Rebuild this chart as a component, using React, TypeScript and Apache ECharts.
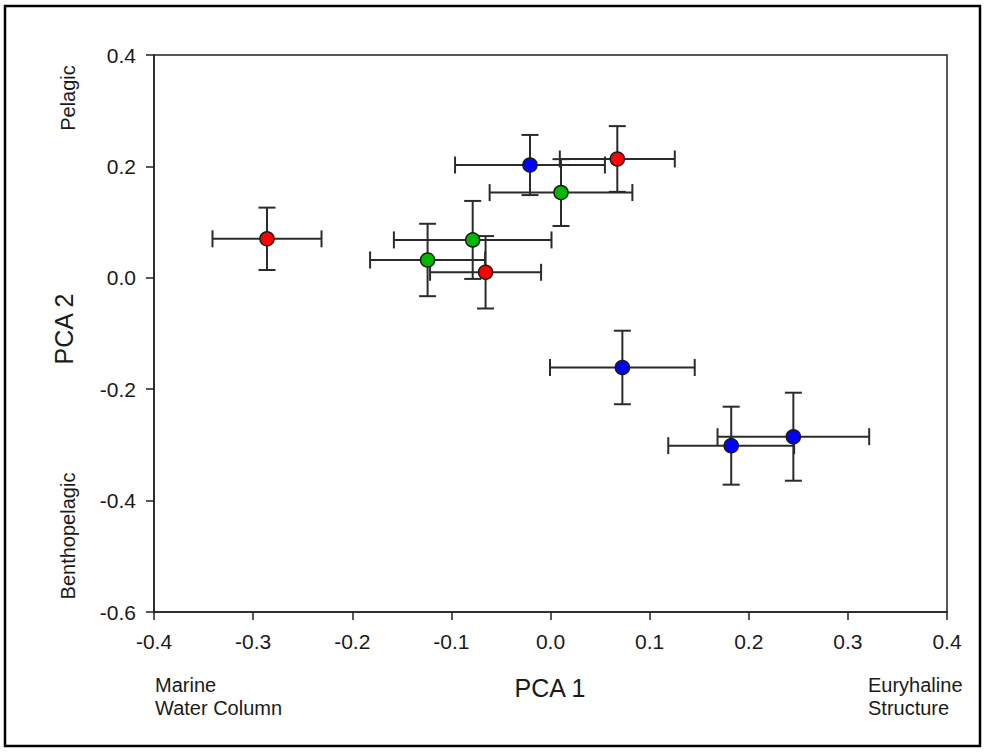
import React, { useEffect, useRef } from "react";
import * as echarts from "echarts";

// Group colours
const groupNames = ["Red", "Green", "Blue"];
const groupColors = ["#ff0000", "#00b800", "#0000ff"];

// Red group
const redX = [-0.286, -0.0655, 0.0674];
const redY = [0.07, 0.0099, 0.2133];
const redXErr = [0.055, 0.056, 0.058];
const redYErr = [0.056, 0.065, 0.059];

// Green group
const greenX = [-0.124, -0.0785, 0.0106];
const greenY = [0.032, 0.068, 0.153];
const greenXErr = [0.058, 0.0795, 0.072];
const greenYErr = [0.065, 0.07, 0.06];

// Blue group
const blueX = [-0.0207, 0.0725, 0.1823, 0.245];
const blueY = [0.2025, -0.161, -0.3014, -0.2853];
const blueXErr = [0.0756, 0.073, 0.0635, 0.0765];
const blueYErr = [0.054, 0.066, 0.07, 0.079];

// Axes
const xTicks = [-0.4, -0.3, -0.2, -0.1, 0.0, 0.1, 0.2, 0.3, 0.4];
const yTicks = [-0.6, -0.4, -0.2, 0.0, 0.2, 0.4];
const xAxisTitle = "PCA 1";
const yAxisTitle = "PCA 2";
const xLeftNote = ["Marine", "Water Column"];
const xRightNote = ["Euryhaline", "Structure"];
const yTopNote = "Pelagic";
const yBottomNote = "Benthopelagic";

const FONT = "'Liberation Sans', Arial, sans-serif";

function fmt(v: number) {
  if (Math.abs(v) < 1e-9) return "0.0";
  return v.toFixed(1);
}

export default function App() {
  const ref = useRef<HTMLDivElement>(null);

  useEffect(() => {
    if (!ref.current) return;
    const chart = echarts.init(ref.current, undefined, { renderer: "svg" });

    const groups = [
      { x: redX, y: redY, ex: redXErr, ey: redYErr },
      { x: greenX, y: greenY, ex: greenXErr, ey: greenYErr },
      { x: blueX, y: blueY, ex: blueXErr, ey: blueYErr },
    ];

    const errData: number[][] = [];
    groups.forEach((g) => {
      g.x.forEach((xv, i) => errData.push([xv, g.y[i], g.ex[i], g.ey[i]]));
    });

    const barStyle = { stroke: "#2b2b2b", lineWidth: 2 };
    const cap = 8.5;

    const scatterSeries = groups.map((g, gi) => ({
      type: "scatter",
      name: groupNames[gi],
      data: g.x.map((xv, i) => [xv, g.y[i]]),
      symbol: "circle",
      symbolSize: 14,
      z: 5,
      itemStyle: {
        color: groupColors[gi],
        borderColor: "#1a1a1a",
        borderWidth: 1.5,
        opacity: 1,
      },
    }));

    const option: any = {
      animation: false,
      backgroundColor: "#ffffff",
      grid: {
        left: 154,
        top: 55,
        width: 793,
        height: 557,
        show: true,
        borderColor: "#222",
        borderWidth: 1.5,
        backgroundColor: "transparent",
      },
      xAxis: {
        type: "value",
        min: xTicks[0],
        max: xTicks[xTicks.length - 1],
        interval: 0.1,
        splitLine: { show: false },
        axisLine: { show: true, onZero: false, lineStyle: { color: "#222", width: 1.5 } },
        axisTick: { show: true, inside: false, length: 8, lineStyle: { color: "#222", width: 1.5 } },
        axisLabel: {
          margin: 19,
          fontSize: 21,
          fontFamily: FONT,
          color: "#1a1a1a",
          formatter: (v: number) => fmt(v),
        },
      },
      yAxis: {
        type: "value",
        min: yTicks[0],
        max: yTicks[yTicks.length - 1],
        interval: 0.2,
        splitLine: { show: false },
        axisLine: { show: true, onZero: false, lineStyle: { color: "#222", width: 1.5 } },
        axisTick: { show: true, inside: false, length: 8, lineStyle: { color: "#222", width: 1.5 } },
        axisLabel: {
          margin: 18,
          fontSize: 21,
          fontFamily: FONT,
          color: "#1a1a1a",
          formatter: (v: number) => fmt(v),
        },
      },
      series: [
        {
          type: "custom",
          name: "error",
          z: 3,
          data: errData,
          renderItem: (params: any, api: any) => {
            const x = api.value(0);
            const y = api.value(1);
            const ex = api.value(2);
            const ey = api.value(3);
            const l = api.coord([x - ex, y]);
            const r = api.coord([x + ex, y]);
            const t = api.coord([x, y + ey]);
            const b = api.coord([x, y - ey]);
            return {
              type: "group",
              children: [
                { type: "line", shape: { x1: l[0], y1: l[1], x2: r[0], y2: r[1] }, style: barStyle },
                { type: "line", shape: { x1: l[0], y1: l[1] - cap, x2: l[0], y2: l[1] + cap }, style: barStyle },
                { type: "line", shape: { x1: r[0], y1: r[1] - cap, x2: r[0], y2: r[1] + cap }, style: barStyle },
                { type: "line", shape: { x1: t[0], y1: t[1], x2: b[0], y2: b[1] }, style: barStyle },
                { type: "line", shape: { x1: t[0] - cap, y1: t[1], x2: t[0] + cap, y2: t[1] }, style: barStyle },
                { type: "line", shape: { x1: b[0] - cap, y1: b[1], x2: b[0] + cap, y2: b[1] }, style: barStyle },
              ],
            };
          },
        },
        ...scatterSeries,
      ],
      graphic: [
        {
          type: "rect",
          shape: { x: 5, y: 6, width: 975, height: 740 },
          style: { fill: "none", stroke: "#000", lineWidth: 2.5 },
          z: 10,
        },
        {
          type: "text",
          x: 550,
          y: 688,
          style: { text: xAxisTitle, font: `25px ${FONT}`, fill: "#1a1a1a", textAlign: "center", textVerticalAlign: "middle" },
        },
        {
          type: "text",
          x: 64,
          y: 329,
          rotation: Math.PI / 2,
          style: { text: yAxisTitle, font: `25px ${FONT}`, fill: "#1a1a1a", textAlign: "center", textVerticalAlign: "middle" },
        },
        {
          type: "text",
          x: 68,
          y: 98,
          rotation: Math.PI / 2,
          style: { text: yTopNote, font: `20px ${FONT}`, fill: "#1a1a1a", textAlign: "center", textVerticalAlign: "middle" },
        },
        {
          type: "text",
          x: 68,
          y: 536,
          rotation: Math.PI / 2,
          style: { text: yBottomNote, font: `20px ${FONT}`, fill: "#1a1a1a", textAlign: "center", textVerticalAlign: "middle" },
        },
        {
          type: "text",
          x: 155,
          y: 685,
          style: { text: xLeftNote[0], font: `20px ${FONT}`, fill: "#1a1a1a", textAlign: "left", textVerticalAlign: "middle" },
        },
        {
          type: "text",
          x: 155,
          y: 708,
          style: { text: xLeftNote[1], font: `20px ${FONT}`, fill: "#1a1a1a", textAlign: "left", textVerticalAlign: "middle" },
        },
        {
          type: "text",
          x: 868,
          y: 685,
          style: { text: xRightNote[0], font: `20px ${FONT}`, fill: "#1a1a1a", textAlign: "left", textVerticalAlign: "middle" },
        },
        {
          type: "text",
          x: 868,
          y: 708,
          style: { text: xRightNote[1], font: `20px ${FONT}`, fill: "#1a1a1a", textAlign: "left", textVerticalAlign: "middle" },
        },
      ],
    };

    chart.setOption(option);
    return () => {
      chart.dispose();
    };
  }, []);

  return (
    <div
      ref={ref}
      style={{ position: "absolute", left: 0, top: 0, width: 985, height: 752, background: "#fff" }}
    />
  );
}
